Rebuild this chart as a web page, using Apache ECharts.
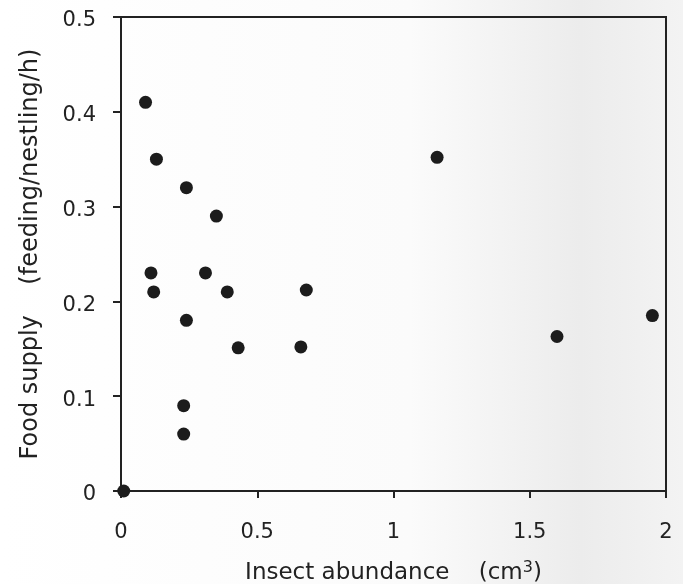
<!DOCTYPE html>
<html>
<head>
<meta charset="utf-8">
<script src="https://cdn.jsdelivr.net/npm/echarts@6/dist/echarts.min.js"></script>
<style>
  html, body { margin: 0; padding: 0; background: #fff; }
  #chart { width: 683px; height: 584px; }
</style>
</head>
<body>
<div id="chart"></div>
<script>
// insect abundance (cm3) and food supply (feeding/nestling/h)
var insect = [0.09, 0.13, 0.24, 0.35, 0.11, 0.31, 0.12, 0.39, 0.68, 0.24, 0.43, 0.66, 0.23, 0.23, 0.01, 1.16, 1.60, 1.95];
var food   = [0.41, 0.35, 0.32, 0.29, 0.23, 0.23, 0.21, 0.21, 0.212, 0.18, 0.151, 0.152, 0.09, 0.06, 0.0, 0.352, 0.163, 0.185];

var xTicks = [0, 0.5, 1, 1.5, 2];
var yTicks = [0, 0.1, 0.2, 0.3, 0.4, 0.5];

var points = [];
for (var i = 0; i < insect.length; i++) {
  points.push([insect[i], food[i]]);
}

var ink = '#222';
var font = 'DejaVu Sans';

var chart = echarts.init(document.getElementById('chart'));
chart.setOption({
  // scanned page: slightly grey towards the right edge
  backgroundColor: {
    type: 'linear', x: 0, y: 0, x2: 1, y2: 0,
    colorStops: [
      { offset: 0, color: '#ffffff' },
      { offset: 0.6, color: '#fbfbfb' },
      { offset: 0.85, color: '#ececec' },
      { offset: 1, color: '#f3f3f3' }
    ]
  },
  animation: false,
  grid: {
    show: true,
    left: 121,
    right: 17,
    top: 17,
    bottom: 93,
    outerBoundsMode: 'none',
    borderColor: ink,
    borderWidth: 2,
    backgroundColor: 'transparent'
  },
  xAxis: {
    type: 'value',
    min: xTicks[0],
    max: xTicks[xTicks.length - 1],
    interval: 0.5,
    splitLine: { show: false },
    axisLine: { onZero: false, lineStyle: { color: ink, width: 2 } },
    axisTick: { show: true, length: 7, lineStyle: { color: ink, width: 2 } },
    axisLabel: { color: ink, fontSize: 21, fontFamily: font, margin: 31 },
    name: '{a|Insect abundance    (cm}{s|3}{a|)}',
    nameLocation: 'middle',
    nameGap: 69,
    nameTextStyle: {
      rich: {
        a: { color: ink, fontSize: 23, fontFamily: font },
        s: { color: ink, fontSize: 16, fontFamily: font, padding: [0, 0, 10, 0] }
      }
    }
  },
  yAxis: {
    type: 'value',
    min: yTicks[0],
    max: yTicks[yTicks.length - 1],
    interval: 0.1,
    splitLine: { show: false },
    axisLine: { onZero: false, lineStyle: { color: ink, width: 2 } },
    axisTick: { show: true, length: 8, lineStyle: { color: ink, width: 2 } },
    axisLabel: { color: ink, fontSize: 21, fontFamily: font, margin: 25, verticalAlign: 'top', lineHeight: 8 },
    name: 'Food supply    (feeding/nestling/h)',
    nameLocation: 'middle',
    nameGap: 78,
    nameTextStyle: { color: ink, fontSize: 24, fontFamily: font }
  },
  series: [{
    type: 'scatter',
    data: points,
    symbol: 'circle',
    symbolSize: 13,
    itemStyle: { color: '#1c1c1c', opacity: 1 },
    clip: false
  }]
});
</script>
</body>
</html>
